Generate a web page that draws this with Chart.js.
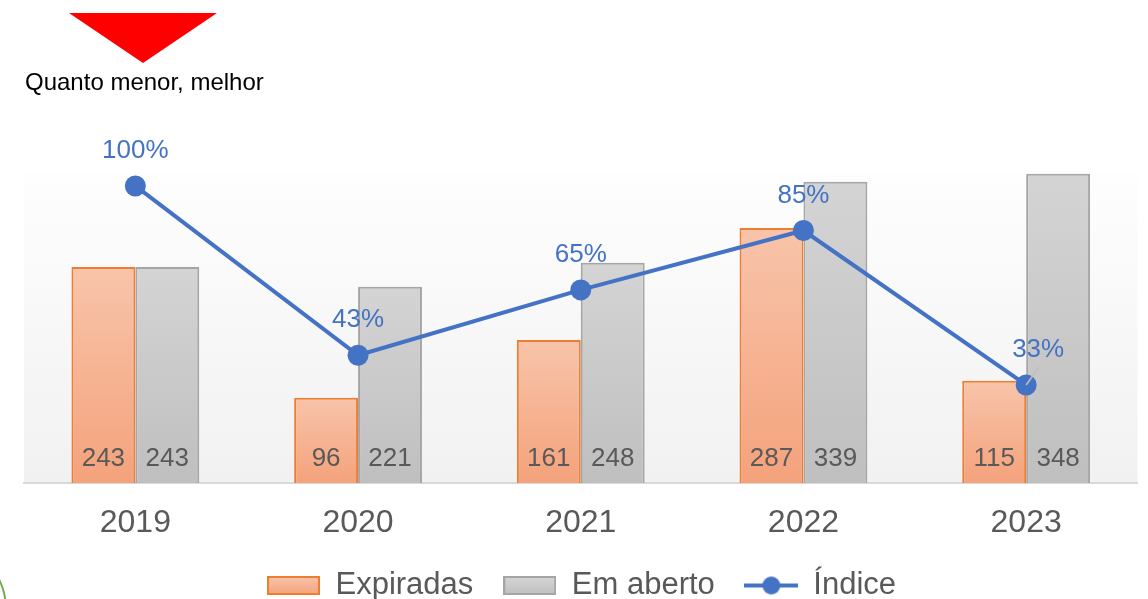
<!DOCTYPE html>
<html>
<head>
<meta charset="utf-8">
<script src="https://cdn.jsdelivr.net/npm/chart.js@4.4.0/dist/chart.umd.min.js"></script>
<style>
html, body { margin: 0; padding: 0; background: #fff; }
#wrap { position: relative; width: 1148px; height: 599px; overflow: hidden; }
#arrow { position: absolute; left: 69px; top: 13px; width: 0; height: 0;
  border-left: 74px solid transparent; border-right: 74px solid transparent; border-top: 50px solid #ff0000; }
#note { position: absolute; left: 25px; top: 70px; font: 24px/24px "Liberation Sans", Arial, sans-serif; color: #000; white-space: nowrap; }
#arc { position: absolute; left: -128px; top: 542px; width: 135px; height: 135px; box-sizing: border-box;
  border: 2px solid #70ad47; border-radius: 50%; }
#chart { position: absolute; left: 0; top: 0; }
</style>
</head>
<body>
<div id="wrap">
  <canvas id="chart" width="1148" height="599"></canvas>
  <div id="arrow"></div>
  <div id="note">Quanto menor, melhor</div>
  <div id="arc"></div>
</div>
<script>
// values
const years = ['2019', '2020', '2021', '2022', '2023'];
const expiradas = [243, 96, 161, 287, 115];
const emAberto = [243, 221, 248, 339, 348];
const indice = [1.00, 0.43, 0.65, 0.85, 0.33];

const FONT = '"Liberation Sans", Arial, sans-serif';
const BLUE = '#4472c4';

// gradient for each bar, top to bottom of the bar itself
function barGrad(c, top, bot) {
    const ch = c.chart;
    if (!ch.chartArea || c.raw == null) return bot;
    const s = ch.scales.y;
    const y0 = s.getPixelForValue(c.raw), y1 = s.getPixelForValue(0);
    const g = ch.ctx.createLinearGradient(0, y0, 0, y1);
    g.addColorStop(0, top);
    g.addColorStop(1, bot);
    return g;
}

// legend icons
function swatch(top, bot, border) {
    const cv = document.createElement('canvas');
    cv.width = 53; cv.height = 19;
    const x = cv.getContext('2d');
    const g = x.createLinearGradient(0, 0, 0, 19);
    g.addColorStop(0, top); g.addColorStop(1, bot);
    x.fillStyle = g;
    x.fillRect(1, 1, 51, 17);
    x.strokeStyle = border; x.lineWidth = 2;
    x.strokeRect(1, 1, 51, 17);
    return cv;
}
function lineIcon() {
    const cv = document.createElement('canvas');
    cv.width = 54; cv.height = 22;
    const x = cv.getContext('2d');
    x.strokeStyle = BLUE; x.lineWidth = 4;
    x.beginPath(); x.moveTo(0, 11); x.lineTo(54, 11); x.stroke();
    x.fillStyle = BLUE;
    x.beginPath(); x.arc(27, 11, 9, 0, Math.PI * 2); x.fill();
    return cv;
}
const legendIcons = [
    swatch('#f8c4aa', '#f4a27b', '#ed7d31'),
    swatch('#d6d6d6', '#bfbfbf', '#a5a5a5'),
    lineIcon()
];

const plotBg = {
    id: 'plotBg',
    beforeDraw(chart) {
        const a = chart.chartArea, ctx = chart.ctx;
        const g = ctx.createLinearGradient(0, a.top, 0, a.bottom);
        g.addColorStop(0, '#fefefe');
        g.addColorStop(1, '#f1f1f1');
        ctx.save();
        ctx.fillStyle = g;
        ctx.fillRect(a.left, a.top, a.right - a.left, a.bottom - a.top);
        ctx.restore();
    }
};

const valueLabels = {
    id: 'valueLabels',
    afterDatasetsDraw(chart) {
        const ctx = chart.ctx;
        const base = chart.scales.y.getPixelForValue(0);
        ctx.save();
        ctx.textAlign = 'center';
        ctx.textBaseline = 'middle';
        ctx.font = '26px ' + FONT;
        ctx.fillStyle = '#595959';
        [0, 1].forEach(di => {
            chart.getDatasetMeta(di).data.forEach((bar, i) => {
                ctx.fillText(String(chart.data.datasets[di].data[i]), bar.x, base - 24);
            });
        });
        // percent labels above the line points
        const pts = chart.getDatasetMeta(2).data;
        ctx.fillStyle = BLUE;
        pts.forEach((p, i) => {
            let dx = 0;
            if (i === pts.length - 1) {
                dx = 12;
                ctx.strokeStyle = '#bfbfbf';
                ctx.lineWidth = 1.5;
                ctx.beginPath();
                ctx.moveTo(p.x, p.y);
                ctx.lineTo(p.x + 13, p.y - 18);
                ctx.stroke();
            }
            ctx.fillText(Math.round(indice[i] * 100) + '%', p.x + dx, p.y - 35);
        });
        ctx.restore();
    }
};

new Chart(document.getElementById('chart'), {
    type: 'bar',
    data: {
        labels: years,
        datasets: [{
            label: 'Expiradas',
            data: expiradas,
            backgroundColor: c => barGrad(c, '#f8c4aa', '#f4a27b'),
            borderColor: '#ed7d31',
            borderWidth: 2,
            categoryPercentage: 0.574,
            barPercentage: 1,
            order: 1
        }, {
            label: 'Em aberto',
            data: emAberto,
            backgroundColor: c => barGrad(c, '#d4d4d4', '#bfbfbf'),
            borderColor: '#a5a5a5',
            borderWidth: 2,
            categoryPercentage: 0.574,
            barPercentage: 1,
            order: 1
        }, {
            type: 'line',
            label: 'Índice',
            data: indice,
            yAxisID: 'y1',
            borderColor: BLUE,
            backgroundColor: BLUE,
            borderWidth: 4,
            pointRadius: 10.5,
            pointHoverRadius: 10.5,
            pointBackgroundColor: BLUE,
            pointBorderWidth: 0,
            tension: 0,
            fill: false,
            order: 0
        }]
    },
    options: {
        responsive: false,
        animation: false,
        layout: {
            padding: { top: 172, left: 24, right: 9, bottom: -12 }
        },
        scales: {
            x: {
                grid: { display: false, drawTicks: false },
                border: { display: true, color: '#d9d9d9', width: 2 },
                ticks: {
                    color: '#595959',
                    font: { family: FONT, size: 32, lineHeight: 1.0 },
                    padding: 24
                },
                afterFit(scale) { scale.height = 57; }
            },
            y: { display: false, min: 0, max: 350 },
            y1: { display: false, min: 0, max: 1.047 }
        },
        plugins: {
            tooltip: { enabled: false },
            legend: {
                position: 'bottom',
                labels: {
                    color: '#595959',
                    font: { family: FONT, size: 31 },
                    padding: 30,
                    boxHeight: 18,
                    usePointStyle: true,
                    pointStyleWidth: 53,
                    sort: (a, b) => a.datasetIndex - b.datasetIndex,
                    generateLabels(chart) {
                        const items = Chart.defaults.plugins.legend.labels.generateLabels(chart);
                        items.forEach(it => {
                            it.pointStyle = legendIcons[it.datasetIndex];
                            it.fontColor = '#595959';
                        });
                        return items;
                    }
                }
            }
        }
    },
    plugins: [plotBg, valueLabels]
});
</script>
</body>
</html>
